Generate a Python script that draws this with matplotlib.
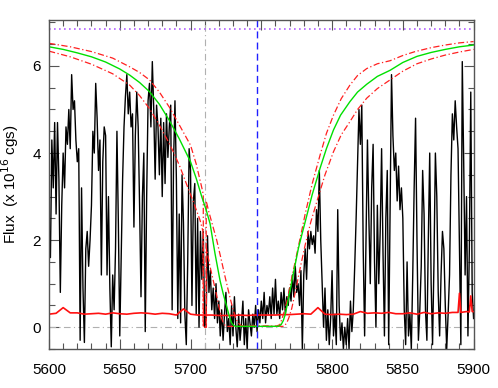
import numpy as np
import matplotlib
matplotlib.use('Agg')
import matplotlib.pyplot as plt
from matplotlib.ticker import MultipleLocator

# Observed spectrum, one value per Angstrom from 5600 to 5900
wave = np.arange(5600, 5901, 1.0)
flux = [
    2.4, 1.6, 4.3, 3.2, 4.7, 2.6, 4.7, 3.4, 0.8, 2.8,
    4.0, 3.2, 4.6, 4.2, 5.0, 4.1, 5.8, 5.0, 5.2, 4.3,
    3.8, 4.1, -0.3, 3.2, 0.9, -0.35, 1.8, 2.2, 1.4, 2.0,
    2.8, 4.5, 4.0, 5.6, 4.8, 3.6, 4.3, 1.2, 3.8, 4.6,
    4.4, 1.2, 3.0, 0.9, -0.45, 1.2, 0.4, 1.8, 4.5, 2.4,
    -0.2, 1.6, 3.4, 4.6, 5.3, 5.8, 4.9, 5.4, 4.6, 4.9,
    2.3, 4.4, 5.4, 4.6, 2.8, 0.7, 3.0, 4.0, -0.1, 3.0,
    5.2, 5.6, 4.6, 6.1, 5.0, 3.4, 5.1, 4.6, 3.5, 4.8,
    3.0, 4.7, 3.3, 4.9, 3.9, 4.6, 5.1, 0.4, 3.8, 5.2,
    3.4, 0.2, 2.6, 0.1, 3.5, 2.4, 0.3, -0.4, 1.5, 4.1,
    3.6, 0.5, 2.9, 3.3, 0.3, 2.5, 0.0, 2.2, 1.1, 2.2,
    0.0, 0.2, 2.1, 0.8, 1.3, 0.4, 0.9, 0.2, 1.0, 0.1,
    0.6, -0.2, 0.4, -0.3, 0.3, 0.8, -0.1, 0.2, -0.4, 0.5,
    -0.2, 0.7, 0.0, -0.45, 0.3, -0.3, 0.1, 0.6, -0.4, 0.2,
    -0.5, 0.4, 0.1, -0.2, 0.3, 0.0, 0.5, -0.1, 0.4, 0.1,
    0.6, 0.2, 0.8, 0.1, 0.5, 0.3, 0.7, 0.2, 0.9, 0.3,
    1.1, 0.3, 0.6, 0.2, 0.8, 0.4, 0.9, 0.3, 0.7, 0.5,
    0.9, 0.6, 1.2, 0.7, 1.4, 0.8, 1.0, 0.5, 1.3, -0.5,
    1.2, 1.8, 1.1, 2.2, 1.8, 2.2, 1.9, 2.1, 1.7, 2.7,
    2.2, 3.6, 2.0, 1.0, 0.0, 0.9, -0.3, 0.4, -0.4, 0.2,
    1.3, -0.2, 0.3, -0.4, 2.7, 0.5, -0.3, 0.1, -0.5, 0.0,
    -0.4, 0.2, -0.5, 0.6, -0.1, 0.4, 1.4, 2.5, 3.8, 5.0,
    4.2, 5.1, 1.8, -0.2, 2.0, 4.3, 2.5, 1.0, 3.2, 4.2,
    1.5, 0.0, 2.8, 1.0, 2.2, 4.1, 1.7, -0.2, 2.5, 3.6,
    -0.4, 2.8, 5.8, 4.4, 3.6, 4.0, 2.9, 3.7, 2.7, 3.2,
    2.5, 0.4, -0.4, 1.5, -0.2, 0.3, -0.5, 1.2, 3.2, 4.8,
    2.0, -0.3, 0.4, 1.4, 3.6, 2.6, 0.4, -0.3, 2.0, 4.0,
    1.0, -0.4, 1.5, 4.0, 3.0, 0.8, -0.2, 1.2, 2.2, 1.8,
    0.5, -0.5, 0.3, 1.2, 3.5, 4.9, 4.3, 5.2, 4.6, 4.1,
    1.8, -0.4, 6.1, 3.8, 1.2, 3.0, -0.2, 1.8, 5.4, 0.8,
    0.2,
]

# Flux error
err_wave = [5600, 5605, 5610, 5615, 5620, 5625, 5630, 5635, 5640, 5645,
            5650, 5655, 5660, 5665, 5670, 5675, 5680, 5685, 5690, 5695,
            5700, 5705, 5710, 5715, 5720, 5725, 5730, 5735, 5740, 5745,
            5750, 5755, 5760, 5765, 5770, 5775, 5780, 5785, 5790, 5795,
            5800, 5805, 5810, 5815, 5820, 5825, 5830, 5835, 5840, 5845,
            5850, 5855, 5860, 5865, 5870, 5875, 5880, 5885, 5889, 5890,
            5891, 5895, 5897, 5898, 5899, 5900]
err_flux = [0.30, 0.32, 0.45, 0.33, 0.33, 0.30, 0.31, 0.32, 0.30, 0.33,
            0.31, 0.30, 0.32, 0.33, 0.32, 0.30, 0.32, 0.31, 0.28, 0.42,
            0.30, 0.28, 0.28, 0.28, 0.27, 0.27, 0.27, 0.28, 0.27, 0.28,
            0.28, 0.28, 0.28, 0.29, 0.29, 0.30, 0.31, 0.30, 0.45, 0.30,
            0.29, 0.30, 0.29, 0.30, 0.36, 0.32, 0.33, 0.32, 0.34, 0.31,
            0.31, 0.33, 0.30, 0.34, 0.31, 0.33, 0.32, 0.34, 0.34, 0.78,
            0.34, 0.36, 0.35, 0.72, 0.36, 0.36]

# Model continuum with absorption trough
model_wave = [5600, 5610, 5620, 5630, 5640, 5650, 5657, 5664, 5671, 5678,
              5685, 5692, 5700, 5704, 5708, 5711, 5713.8, 5717.3, 5720.8,
              5723, 5725.6, 5727.5, 5729, 5730.5, 5732, 5762, 5764,
              5765.5, 5766.8, 5769, 5771.5, 5774, 5776.2, 5778.6, 5781,
              5786, 5791.5, 5796, 5801, 5806, 5812.6, 5818, 5824.5, 5832,
              5841, 5850, 5860, 5870, 5880, 5890, 5900]
model_flux = [6.44, 6.38, 6.30, 6.21, 6.09, 5.93, 5.79, 5.62, 5.41, 5.12,
              4.75, 4.33, 3.80, 3.42, 2.99, 2.70, 2.38, 1.69, 1.08,
              0.78, 0.47, 0.24, 0.10, 0.04, 0.02, 0.02, 0.06,
              0.15, 0.28, 0.62, 1.04, 1.45, 1.81, 2.12, 2.42,
              3.05, 3.65, 4.10, 4.53, 4.87, 5.18, 5.40, 5.58, 5.76,
              5.90, 6.08, 6.22, 6.31, 6.38, 6.44, 6.48]

# Model upper / lower bounds
upper_wave = [5600, 5615, 5630, 5645, 5657, 5664, 5671, 5678, 5685.5, 5692,
              5700, 5704, 5708, 5709, 5709.1, 5711, 5711.1, 5712.6, 5715.5,
              5718.5, 5721.5, 5724.4, 5727, 5729, 5731, 5732.6, 5734.5,
              5736, 5761, 5763.2, 5765.5, 5768, 5771, 5773.9, 5776.5,
              5778.6, 5781, 5786, 5791.5, 5796, 5801, 5806.5, 5812.6, 5818,
              5824.5, 5832, 5841, 5850, 5858.7, 5870, 5879.9, 5890, 5900]
upper_flux = [6.52, 6.44, 6.33, 6.18, 5.98, 5.85, 5.68, 5.40, 5.03, 4.65,
              4.18, 3.75, 3.20, 3.05, 0.0, 0.0, 2.90, 2.69, 2.35,
              2.00, 1.58, 1.16, 0.80, 0.54, 0.30, 0.16, 0.07,
              0.03, 0.03, 0.06, 0.28, 0.58, 1.05, 1.50, 1.90,
              2.22, 2.60, 3.30, 3.95, 4.45, 4.87, 5.25, 5.56, 5.78,
              5.94, 6.05, 6.12, 6.24, 6.33, 6.42, 6.48, 6.53, 6.56]
lower_wave = [5600, 5615, 5630, 5645, 5657, 5664, 5671, 5677, 5683, 5688,
              5692.6, 5697, 5702, 5706.7, 5708.8, 5708.9, 5711.2, 5711.3,
              5713.8, 5716, 5718, 5720, 5722, 5723.5, 5725, 5766, 5768,
              5769.5, 5771.5, 5774.5, 5777.4, 5781, 5785, 5789.2, 5795,
              5801, 5806.5, 5812.6, 5818, 5824.5, 5832, 5841, 5850, 5860,
              5870, 5880, 5890, 5900]
lower_flux = [6.34, 6.21, 6.04, 5.82, 5.56, 5.32, 5.02, 4.70, 4.34, 4.02,
              3.68, 3.30, 2.88, 2.46, 2.20, 0.0, 0.0, 1.80,
              1.39, 1.08, 0.80, 0.48, 0.20, 0.08, 0.02, 0.02, 0.10,
              0.22, 0.43, 0.88, 1.35, 1.89, 2.42, 2.88, 3.50,
              4.03, 4.42, 4.72, 5.00, 5.26, 5.48, 5.68, 5.88, 6.05,
              6.16, 6.25, 6.32, 6.38]

continuum_level = 6.85
edge_wave = 5710
center_wave = 5747

plt.rcParams['font.family'] = ['Liberation Sans', 'DejaVu Sans']

fig = plt.figure(figsize=(4.98, 3.88), dpi=100)
ax = fig.add_axes([0.0984, 0.1005, 0.8526, 0.8485])

# Reference lines
ax.axhline(0, color='#b0b0b0', lw=0.8, ls=(0, (6, 3, 1, 3)))
ax.axvline(edge_wave, color='#b0b0b0', lw=0.8, ls=(0, (6, 3, 1, 3)))
ax.axhline(continuum_level, color='#b060ff', lw=1.2, ls=(0, (1, 2)))

# Spectrum and error
ax.plot(wave, flux, color='black', lw=1.0)
ax.plot(err_wave, err_flux, color='#ff1010', lw=1.2)

# Model and bounds
ax.plot(lower_wave, lower_flux, color='#ff2020', lw=0.9, ls=(0, (5, 2, 1, 2)))
ax.plot(upper_wave, upper_flux, color='#ff2020', lw=0.9, ls=(0, (5, 2, 1, 2)))
ax.plot(model_wave, model_flux, color='#00e000', lw=1.0)

ax.axvline(center_wave, color='#2020ff', lw=1.0, ls=(0, (5, 3)))

ax.set_xlim(5600, 5900)
ax.set_ylim(-0.5, 7.06)

ax.xaxis.set_major_locator(MultipleLocator(50))
ax.xaxis.set_minor_locator(MultipleLocator(10))
ax.yaxis.set_major_locator(MultipleLocator(2))
ax.yaxis.set_minor_locator(MultipleLocator(0.5))

ax.tick_params(which='both', direction='in', top=True, right=True,
               color='#555555', labelsize=11)
ax.tick_params(which='major', length=7, width=0.8)
ax.tick_params(which='minor', length=4, width=0.8)
ax.tick_params(axis='x', which='major', pad=10)
ax.tick_params(axis='y', which='major', pad=6)

for spine in ax.spines.values():
    spine.set_color('#555555')
    spine.set_linewidth(1.0)

ax.set_ylabel(r'Flux  (x 10$^{16}$ cgs)', fontsize=11, labelpad=8)

fig.savefig('out.png', dpi=100)
